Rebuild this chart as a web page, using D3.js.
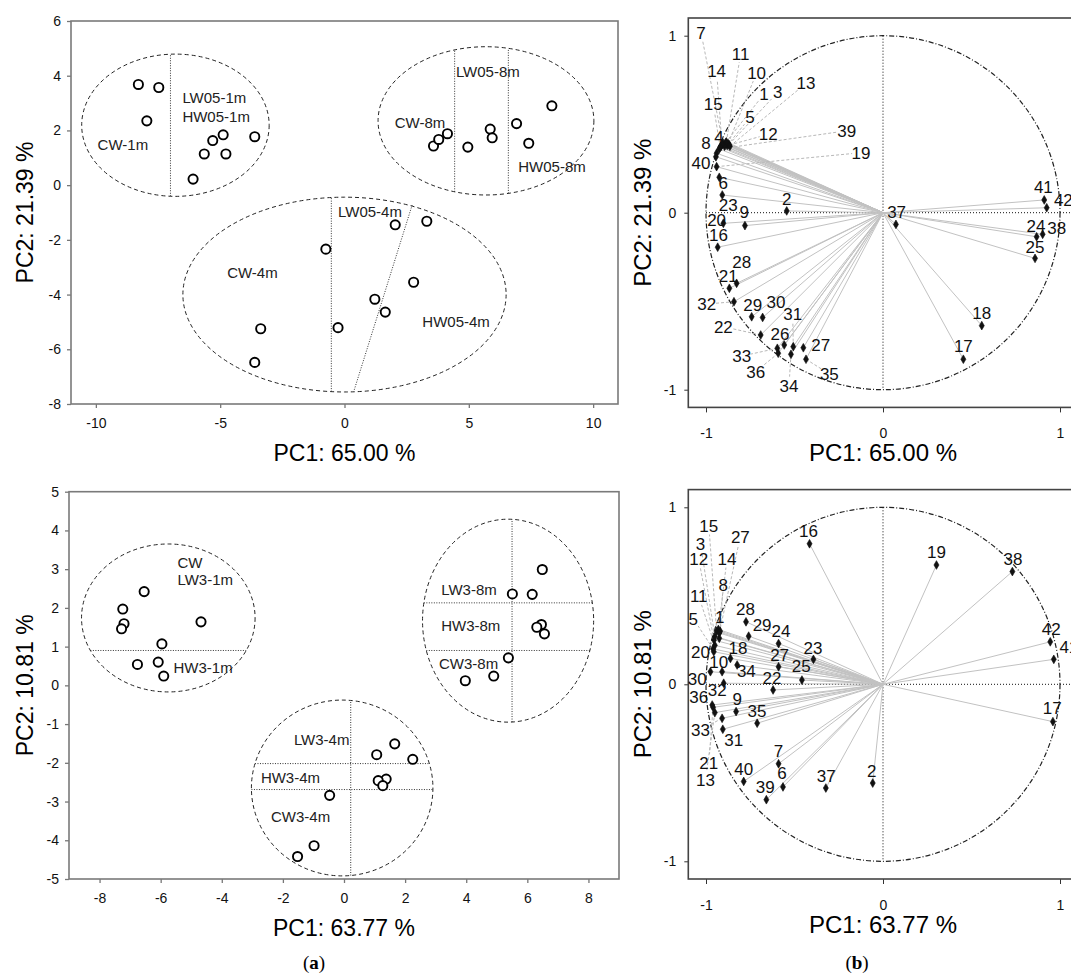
<!DOCTYPE html>
<html>
<head>
<meta charset="utf-8">
<script src="https://cdn.jsdelivr.net/npm/d3@7"></script>
<style>
  body { margin: 0; background: #fff; }
</style>
</head>
<body>
<div id="chart-area"></div>
<script>
// ---- panel (a), top: scores ----
var topScoreX = [-8.29, -7.47, -7.95, -5.30, -4.88, -3.61, -5.64, -4.77, -6.09,
                  3.58,  3.79,  4.14,  4.96,  5.86,  5.94,  6.92,  7.41,  8.34,
                  2.04,  3.31, -0.75,  2.78,  1.22,  1.64, -3.37, -0.26, -3.61];
var topScoreY = [ 3.68,  3.57,  2.35,  1.63,  1.84,  1.77,  1.14,  1.14,  0.22,
                  1.43,  1.67,  1.88,  1.39,  2.05,  1.73,  2.25,  1.53,  2.90,
                 -1.45, -1.32, -2.34, -3.55, -4.17, -4.64, -5.25, -5.21, -6.48];
var topEllCx = [-6.80, 5.69, 0.00];
var topEllCy = [ 2.19, 2.35, -4.00];
var topEllRx = [ 3.77, 4.34, 6.50];
var topEllRy = [ 2.60, 2.71, 3.56];
var topDividers = [{e: 0, v: -7.0}, {e: 1, v: 4.43}, {e: 1, v: 6.59}, {e: 2, v: -0.53},
                   {x1: 2.72, y1: -0.73, x2: 0.39, y2: -7.49}];
var topGroups  = ["CW-1m", "LW05-1m", "HW05-1m", "LW05-8m", "CW-8m", "HW05-8m", "LW05-4m", "CW-4m", "HW05-4m"];
var topGroupX  = [-9.93, -6.52, -6.52, 4.48, 2.02, 6.99, -0.26, -4.72, 3.13];
var topGroupY  = [ 1.46,  3.18,  2.49, 4.13, 2.27, 0.66, -0.99, -3.22, -5.01];

// ---- panel (a), bottom: scores ----
var botScoreX = [-6.54, -7.24, -7.20, -7.28, -4.68, -5.96, -6.76, -6.08, -5.90,
                  6.49,  5.51,  6.16,  6.46,  6.31,  6.56,  5.38,  4.90,  3.97,
                  1.66,  1.07,  2.25,  1.38,  1.12,  1.27, -0.47, -0.98, -1.52];
var botScoreY = [ 2.42,  1.97,  1.59,  1.46,  1.64,  1.07,  0.54,  0.60,  0.24,
                  2.99,  2.36,  2.35,  1.57,  1.50,  1.33,  0.71,  0.24,  0.12,
                 -1.51, -1.79, -1.91, -2.42, -2.46, -2.59, -2.84, -4.14, -4.42];
var botEllCx = [-5.75, 5.37, -0.06];
var botEllCy = [ 1.74, 1.67, -2.65];
var botEllRx = [ 2.84, 2.80, 2.97];
var botEllRy = [ 1.91, 2.62, 2.27];
var botDividers = [{e: 0, h: 0.90}, {e: 1, v: 5.50}, {e: 1, h: 2.13}, {e: 1, h: 0.90},
                   {e: 2, v: 0.22}, {e: 2, h: -2.02}, {e: 2, h: -2.69}];
var botGroups = ["CW", "LW3-1m", "HW3-1m", "LW3-8m", "HW3-8m", "CW3-8m", "LW3-4m", "HW3-4m", "CW3-4m"];
var botGroupX = [-5.45, -5.45, -5.58, 3.18, 3.18, 3.11, -1.64, -2.72, -2.39];
var botGroupY = [ 3.17,  2.73,  0.46, 2.47, 1.54, 0.56, -1.40, -2.39, -3.38];

// ---- panel (b), top: loadings ----
var topLoadName = ["1","2","3","4","5","6","7","8","9","10","11","12","13","14","15","16","17","18","19","20","21",
                   "22","23","24","25","26","27","28","29","30","31","32","33","34","35","36","37","38","39","40","41","42"];
var topLoadX = [-0.890, -0.544, -0.870, -0.915, -0.880, -0.925, -0.905, -0.940, -0.780, -0.875, -0.885, -0.895, -0.865, -0.910,
                -0.920, -0.934,  0.454,  0.558, -0.940, -0.902, -0.868, -0.691, -0.908,  0.868,  0.859, -0.558, -0.450, -0.827,
                -0.742, -0.680, -0.507, -0.842, -0.597, -0.520, -0.435, -0.592,  0.073,  0.902, -0.925, -0.944,  0.911,  0.925];
var topLoadY = [ 0.395,  0.010,  0.385,  0.375,  0.380,  0.200,  0.395,  0.336, -0.073,  0.390,  0.400,  0.375,  0.375,  0.385,
                 0.370, -0.195, -0.828, -0.638,  0.260, -0.060, -0.427, -0.691,  0.100, -0.136, -0.258, -0.747, -0.763, -0.399,
                -0.588, -0.592, -0.757, -0.503, -0.766, -0.800, -0.828, -0.794, -0.066, -0.122,  0.360,  0.316,  0.072,  0.028];
var topLabX  = [-0.672, -0.544, -0.595, -0.927, -0.751, -0.902, -1.028, -1.000, -0.784, -0.714, -0.804, -0.648, -0.435, -0.940,
                -0.959, -0.930,  0.454,  0.558, -0.124, -0.940, -0.874, -0.902, -0.874,  0.864,  0.859, -0.582, -0.352, -0.798,
                -0.736, -0.605, -0.510, -0.996, -0.798, -0.531, -0.303, -0.719,  0.077,  0.981, -0.205, -1.028,  0.906,  1.019];
var topLabY  = [ 0.671,  0.077,  0.680,  0.426,  0.539,  0.166,  1.017,  0.392,  0.006,  0.791,  0.900,  0.443,  0.731,  0.800,
                 0.612, -0.126, -0.753, -0.568,  0.339, -0.041, -0.358, -0.644,  0.044, -0.073, -0.192, -0.685, -0.747, -0.277,
                -0.518, -0.506, -0.574, -0.516, -0.810, -0.977, -0.911, -0.898,  0.002, -0.085,  0.463,  0.282,  0.147,  0.072];

// ---- panel (b), bottom: loadings ----
var botLoadName = ["1","2","3","5","6","7","8","9","10","11","12","13","14","15","16","17","18","19","20","21","22",
                   "23","24","25","27","27","28","29","30","31","32","33","34","35","36","37","38","39","40","41","42"];
var botLoadX = [-0.925, -0.058, -0.950, -0.960, -0.565, -0.590, -0.920, -0.830, -0.909, -0.950, -0.955, -0.950, -0.930, -0.940,
                -0.415,  0.960, -0.862,  0.302, -0.956, -0.960, -0.621, -0.393, -0.590, -0.458, -0.925, -0.590, -0.774, -0.759,
                -0.975, -0.905, -0.900, -0.909, -0.824, -0.711, -0.965, -0.323,  0.731, -0.659, -0.787,  0.965,  0.945];
var botLoadY = [ 0.260, -0.558,  0.270,  0.200, -0.580, -0.449,  0.300, -0.154,  0.071,  0.220,  0.250, -0.160,  0.310,  0.300,
                 0.794, -0.211,  0.146,  0.674,  0.184, -0.130, -0.032,  0.141,  0.230,  0.024,  0.290,  0.099,  0.353,  0.272,
                 0.071, -0.254,  0.006, -0.192,  0.109, -0.220, -0.117, -0.586,  0.637, -0.652, -0.549,  0.141,  0.240];
var botLabX  = [-0.922, -0.064, -1.031, -1.072, -0.571, -0.590, -0.903, -0.824, -0.928, -1.041, -1.041, -1.003, -0.881, -0.984,
                -0.421,  0.956, -0.819,  0.302, -1.031, -0.984, -0.627, -0.396, -0.576, -0.462, -0.806, -0.584, -0.777, -0.683,
                -1.050, -0.843, -0.937, -1.031, -0.772, -0.712, -1.041, -0.321,  0.734, -0.665, -0.787,  1.050,  0.950];
var botLabY  = [ 0.381, -0.487,  0.794,  0.372, -0.501, -0.374,  0.563, -0.083,  0.124,  0.497,  0.706, -0.539,  0.710,  0.897,
                 0.865, -0.135,  0.208,  0.747,  0.184, -0.445,  0.034,  0.206,  0.300,  0.103,  0.835,  0.165,  0.428,  0.338,
                 0.028, -0.314, -0.032, -0.257,  0.075, -0.149, -0.070, -0.517,  0.710, -0.580, -0.479,  0.212,  0.315];

var svg = d3.select("#chart-area")
            .append("svg")
            .attr("width", 1071)
            .attr("height", 979)
            .style("font-family", "'Liberation Sans', Arial, sans-serif");

function fmt(d) { return String(d); }

function scorePanel(p) {
    var x = d3.scaleLinear().domain(p.xDomain).range([p.left, p.right]);
    var y = d3.scaleLinear().domain(p.yDomain).range([p.bottom, p.top]);
    var g = svg.append("g");

    var xAxisGroup = g.append("g")
                      .attr("transform", "translate(0," + p.bottom + ")")
                      .call(d3.axisBottom(x).tickValues(p.xTicks).tickSize(4).tickPadding(10).tickFormat(fmt));
    var yAxisGroup = g.append("g")
                      .attr("transform", "translate(" + p.left + ",0)")
                      .call(d3.axisLeft(y).tickValues(p.yTicks).tickSize(4).tickPadding(6).tickFormat(fmt));
    [xAxisGroup, yAxisGroup].forEach(function(a) {
        a.select(".domain").remove();
        a.selectAll("line").attr("stroke", "#777").attr("stroke-width", 1.3);
        a.selectAll("text").attr("font-size", "14px").attr("fill", "#111").attr("font-family", null);
    });

    // frame
    g.append("rect")
     .attr("x", p.left).attr("y", p.top)
     .attr("width", p.right - p.left).attr("height", p.bottom - p.top)
     .attr("fill", "none").attr("stroke", "#7a7a7a").attr("stroke-width", 1.6);

    // group ellipses
    g.selectAll(".ell")
     .data(d3.range(p.ellCx.length))
     .enter().append("ellipse")
     .attr("cx", (i) => x(p.ellCx[i]))
     .attr("cy", (i) => y(p.ellCy[i]))
     .attr("rx", (i) => x(p.ellCx[i] + p.ellRx[i]) - x(p.ellCx[i]))
     .attr("ry", (i) => y(p.ellCy[i] - p.ellRy[i]) - y(p.ellCy[i]))
     .attr("fill", "none").attr("stroke", "#222").attr("stroke-width", 1)
     .attr("stroke-dasharray", "4,3");

    // dividing lines inside the ellipses
    function chord(d) {
        if (d.x1 !== undefined) return [d.x1, d.y1, d.x2, d.y2];
        var cx = p.ellCx[d.e], cy = p.ellCy[d.e], rx = p.ellRx[d.e], ry = p.ellRy[d.e];
        if (d.v !== undefined) {
            var t = (d.v - cx) / rx, h = ry * Math.sqrt(1 - t * t);
            return [d.v, cy - h, d.v, cy + h];
        }
        var s = (d.h - cy) / ry, w = rx * Math.sqrt(1 - s * s);
        return [cx - w, d.h, cx + w, d.h];
    }
    g.selectAll(".div")
     .data(p.dividers)
     .enter().append("line")
     .attr("x1", (d) => x(chord(d)[0])).attr("y1", (d) => y(chord(d)[1]))
     .attr("x2", (d) => x(chord(d)[2])).attr("y2", (d) => y(chord(d)[3]))
     .attr("stroke", "#333").attr("stroke-width", 1).attr("stroke-dasharray", "1,1.5");

    // sample scores
    g.selectAll(".pt")
     .data(d3.range(p.sx.length))
     .enter().append("circle")
     .attr("cx", (i) => x(p.sx[i]))
     .attr("cy", (i) => y(p.sy[i]))
     .attr("r", 4.6)
     .attr("fill", "#fff").attr("stroke", "#000").attr("stroke-width", 1.9);

    // group names
    g.selectAll(".grp")
     .data(d3.range(p.groups.length))
     .enter().append("text")
     .attr("x", (i) => x(p.gx[i]))
     .attr("y", (i) => y(p.gy[i]))
     .attr("dy", "0.35em")
     .attr("font-size", "15px").attr("fill", "#222")
     .text((i) => p.groups[i]);

    // axis titles
    g.append("text")
     .attr("x", (p.left + p.right) / 2).attr("y", p.bottom + 57)
     .attr("text-anchor", "middle").attr("font-size", "23px")
     .text(p.xTitle);
    g.append("text")
     .attr("transform", "translate(" + p.yTitleX + "," + (p.top + p.bottom) / 2 + ") rotate(-90)")
     .attr("text-anchor", "middle").attr("dy", "0.35em").attr("font-size", "23px")
     .text(p.yTitle);
}

function loadingPanel(p) {
    var x = d3.scaleLinear().domain([-1.1, 1.1]).range([p.left, p.left + 389.4]);
    var y = d3.scaleLinear().domain([-1.1, 1.1]).range([p.bottom, p.bottom - 389.4]);
    var g = svg.append("g");

    var xAxisGroup = g.append("g")
                      .attr("transform", "translate(0," + p.bottom + ")")
                      .call(d3.axisBottom(x).tickValues([-1, 0, 1]).tickSize(5).tickPadding(16).tickFormat(fmt));
    var yAxisGroup = g.append("g")
                      .attr("transform", "translate(" + p.left + ",0)")
                      .call(d3.axisLeft(y).tickValues([-1, 0, 1]).tickSize(4).tickPadding(8).tickFormat(fmt));
    [xAxisGroup, yAxisGroup].forEach(function(a) {
        a.select(".domain").remove();
        a.selectAll("line").attr("stroke", "#333");
        a.selectAll("text").attr("font-size", "14px").attr("fill", "#111").attr("font-family", null);
    });

    g.append("rect")
     .attr("x", p.left).attr("y", y(1.1))
     .attr("width", x(1.1) - p.left).attr("height", p.bottom - y(1.1))
     .attr("fill", "none").attr("stroke", "#444").attr("stroke-width", 1.6);

    // reference lines through the origin
    g.append("line")
     .attr("x1", x(0)).attr("x2", x(0)).attr("y1", y(1)).attr("y2", y(-1))
     .attr("stroke", "#111").attr("stroke-dasharray", "1,2");
    g.append("line")
     .attr("x1", x(-1)).attr("x2", x(1.1)).attr("y1", y(0)).attr("y2", y(0))
     .attr("stroke", "#111").attr("stroke-dasharray", "1,2");

    // unit circle
    g.append("ellipse")
     .attr("cx", x(0)).attr("cy", y(0))
     .attr("rx", x(1) - x(0)).attr("ry", y(0) - y(1))
     .attr("fill", "none").attr("stroke", "#222").attr("stroke-width", 1.2)
     .attr("stroke-dasharray", "5,2,1,2");

    var idx = d3.range(p.names.length);

    // vectors
    g.selectAll(".vec")
     .data(idx)
     .enter().append("line")
     .attr("x1", x(0)).attr("y1", y(0))
     .attr("x2", (i) => x(p.lx[i])).attr("y2", (i) => y(p.ly[i]))
     .attr("stroke", "#c2c2c2").attr("stroke-width", 1);

    // leaders for labels moved away from their point
    var moved = idx.filter(function(i) {
        var dx = x(p.tx[i]) - x(p.lx[i]), dy = y(p.ty[i]) - y(p.ly[i]);
        return Math.sqrt(dx * dx + dy * dy) > 24;
    });
    g.selectAll(".lead")
     .data(moved)
     .enter().append("line")
     .attr("x1", (i) => x(p.lx[i])).attr("y1", (i) => y(p.ly[i]))
     .attr("x2", function(i) {
         var dx = x(p.tx[i]) - x(p.lx[i]), dy = y(p.ty[i]) - y(p.ly[i]);
         var len = Math.sqrt(dx * dx + dy * dy);
         return x(p.tx[i]) - dx / len * 9;
     })
     .attr("y2", function(i) {
         var dx = x(p.tx[i]) - x(p.lx[i]), dy = y(p.ty[i]) - y(p.ly[i]);
         var len = Math.sqrt(dx * dx + dy * dy);
         return y(p.ty[i]) - dy / len * 9;
     })
     .attr("stroke", "#b8b8b8").attr("stroke-width", 1).attr("stroke-dasharray", "3,2");

    // points
    g.selectAll(".pt")
     .data(idx)
     .enter().append("path")
     .attr("transform", (i) => "translate(" + x(p.lx[i]) + "," + y(p.ly[i]) + ")")
     .attr("d", d3.symbol().type(d3.symbolDiamond).size(22))
     .attr("fill", "#111").attr("stroke", "#111").attr("stroke-width", 0.6);

    // labels
    g.selectAll(".lab")
     .data(idx)
     .enter().append("text")
     .attr("x", (i) => x(p.tx[i]))
     .attr("y", (i) => y(p.ty[i]))
     .attr("dy", "0.36em")
     .attr("text-anchor", "middle")
     .attr("font-size", "17px").attr("fill", "#111")
     .text((i) => p.names[i]);

    g.append("text")
     .attr("x", x(0)).attr("y", p.bottom + 54)
     .attr("text-anchor", "middle").attr("font-size", "24px")
     .text(p.xTitle);
    g.append("text")
     .attr("transform", "translate(643," + y(0) + ") rotate(-90)")
     .attr("text-anchor", "middle").attr("dy", "0.35em").attr("font-size", "24px")
     .text(p.yTitle);
}

scorePanel({
    left: 71, right: 618, top: 21, bottom: 404,
    xDomain: [-11, 11], yDomain: [-8, 6],
    xTicks: [-10, -5, 0, 5, 10], yTicks: [-8, -6, -4, -2, 0, 2, 4, 6],
    sx: topScoreX, sy: topScoreY,
    ellCx: topEllCx, ellCy: topEllCy, ellRx: topEllRx, ellRy: topEllRy,
    dividers: topDividers,
    groups: topGroups, gx: topGroupX, gy: topGroupY,
    xTitle: "PC1: 65.00 %", yTitle: "PC2: 21.39 %", yTitleX: 25
});

scorePanel({
    left: 69, right: 619, top: 491.7, bottom: 879,
    xDomain: [-9, 9], yDomain: [-5, 5],
    xTicks: [-8, -6, -4, -2, 0, 2, 4, 6, 8], yTicks: [-5, -4, -3, -2, -1, 0, 1, 2, 3, 4, 5],
    sx: botScoreX, sy: botScoreY,
    ellCx: botEllCx, ellCy: botEllCy, ellRx: botEllRx, ellRy: botEllRy,
    dividers: botDividers,
    groups: botGroups, gx: botGroupX, gy: botGroupY,
    xTitle: "PC1: 63.77 %", yTitle: "PC2: 10.81 %", yTitleX: 25
});

loadingPanel({
    left: 688.3, bottom: 407.4,
    names: topLoadName, lx: topLoadX, ly: topLoadY, tx: topLabX, ty: topLabY,
    xTitle: "PC1: 65.00 %", yTitle: "PC2: 21.39 %"
});

loadingPanel({
    left: 688.3, bottom: 879,
    names: botLoadName, lx: botLoadX, ly: botLoadY, tx: botLabX, ty: botLabY,
    xTitle: "PC1: 63.77 %", yTitle: "PC2: 10.81 %"
});

// panel letters
[["a", 314], ["b", 857]].forEach(function(d) {
    var t = svg.append("text")
               .attr("x", d[1]).attr("y", 969)
               .attr("text-anchor", "middle")
               .attr("font-family", "'Liberation Serif', 'DejaVu Serif', serif")
               .attr("font-size", "19px");
    t.append("tspan").text("(");
    t.append("tspan").attr("font-weight", "bold").text(d[0]);
    t.append("tspan").text(")");
});
</script>
</body>
</html>
